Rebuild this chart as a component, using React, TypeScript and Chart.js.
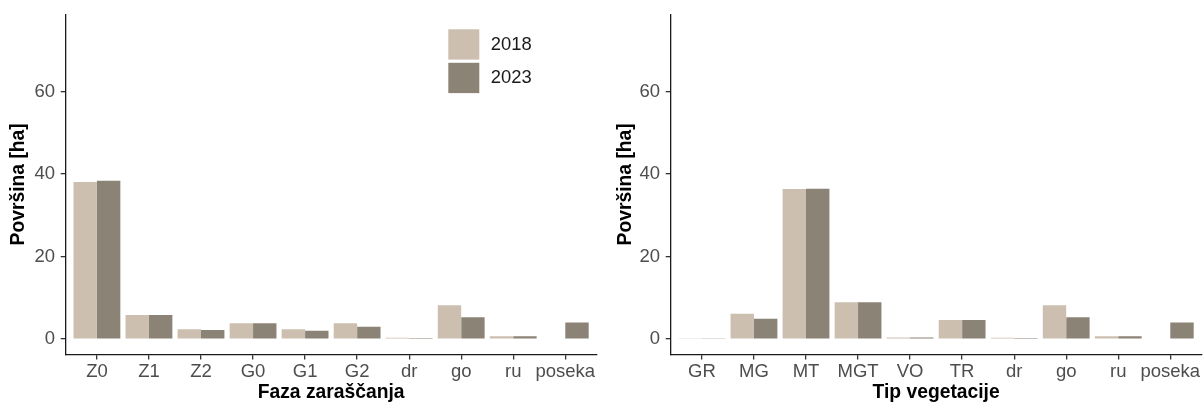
import React, { useEffect, useRef } from 'react';
import { Chart, registerables } from 'chart.js';

Chart.register(...registerables);

const seriesLabels = ['2018', '2023'];
const seriesColors = ['#CCBFAF', '#8C8377'];

const fazaCategories = ['Z0', 'Z1', 'Z2', 'G0', 'G1', 'G2', 'dr', 'go', 'ru', 'poseka'];
const faza2018 = [38.1, 5.8, 2.4, 3.8, 2.35, 3.8, 0.3, 8.2, 0.7, 0];
const faza2023 = [38.4, 5.8, 2.2, 3.8, 2.0, 3.0, 0.25, 5.3, 0.65, 4.0];

const tipCategories = ['GR', 'MG', 'MT', 'MGT', 'VO', 'TR', 'dr', 'go', 'ru', 'poseka'];
const tip2018 = [0.06, 6.1, 36.4, 8.9, 0.4, 4.6, 0.3, 8.2, 0.7, 0];
const tip2023 = [0.06, 4.9, 36.45, 8.9, 0.4, 4.6, 0.25, 5.3, 0.65, 4.0];

const yTicks = [0, 20, 40, 60];
const yMin = -3.75;
const yMax = 78.75;
const yTitle = 'Površina [ha]';

const FONT = '"Liberation Sans", Arial, Helvetica, sans-serif';

type Geo = {
  width: number;
  yAxisWidth: number;
  yTitlePad: number;
  rightPad: number;
};

const legendPlugin = {
  id: 'insideLegend',
  afterDraw(chart: any) {
    const ctx = chart.ctx;
    ctx.save();
    chart.data.datasets.forEach((ds: any, i: number) => {
      ctx.fillStyle = ds.backgroundColor;
      ctx.fillRect(448.3, 29.3 + i * 33.5, 31, 30.3);
      ctx.fillStyle = '#1a1a1a';
      ctx.font = `18.4px ${FONT}`;
      ctx.textBaseline = 'middle';
      ctx.textAlign = 'left';
      ctx.fillText(ds.label, 490.7, 44.8 + i * 33.6);
    });
    ctx.restore();
  },
};

function makeGrid() {
  return {
    display: true,
    drawOnChartArea: false,
    drawTicks: true,
    offset: false,
    tickLength: 5,
    tickColor: '#333333',
    tickWidth: 1.3,
    color: '#333333',
    lineWidth: 1.3,
  };
}

function makeConfig(
  categories: string[],
  values: number[][],
  xTitle: string,
  geo: Geo,
  withLegend: boolean
): any {
  const tickFont = { family: FONT, size: 18.5 };
  const titleFont = { family: FONT, size: 19.3, weight: 'bold' as const, lineHeight: 1 };
  return {
    type: 'bar',
    data: {
      datasets: values.map((vals, s) => ({
        label: seriesLabels[s],
        data: categories.map((_, i) => ({ x: i, y: vals[i] })),
        backgroundColor: seriesColors[s],
        borderWidth: 0,
        categoryPercentage: 0.9,
        barPercentage: 1.0,
      })),
    },
    options: {
      responsive: false,
      animation: false,
      devicePixelRatio: 1,
      layout: { padding: { left: 0, top: 14.2, right: geo.rightPad, bottom: 0 } },
      plugins: { legend: { display: false }, tooltip: { enabled: false } },
      scales: {
        x: {
          type: 'linear',
          min: -0.6,
          max: 9.6,
          offset: false,
          afterBuildTicks: (s: any) => {
            s.ticks = categories.map((_, i) => ({ value: i }));
          },
          afterFit: (s: any) => {
            s.height = 50.5;
            s.paddingLeft = 0;
            s.paddingRight = 0;
          },
          ticks: {
            autoSkip: false,
            maxRotation: 0,
            minRotation: 0,
            padding: 1.8,
            color: '#4D4D4D',
            font: tickFont,
            callback: (v: number) => categories[Math.round(v)] ?? '',
          },
          grid: makeGrid(),
          border: { display: true, color: '#1a1a1a', width: 1.3 },
          title: {
            display: true,
            text: xTitle,
            color: '#000000',
            font: titleFont,
            padding: { top: 0, bottom: 2.5 },
          },
        },
        y: {
          type: 'linear',
          min: yMin,
          max: yMax,
          afterBuildTicks: (s: any) => {
            s.ticks = yTicks.map((v) => ({ value: v }));
          },
          afterFit: (s: any) => {
            s.width = geo.yAxisWidth;
            s.paddingTop = 0;
            s.paddingBottom = 0;
          },
          ticks: {
            padding: 5.7,
            color: '#4D4D4D',
            font: tickFont,
            callback: (v: number) => String(v),
          },
          grid: makeGrid(),
          border: { display: true, color: '#1a1a1a', width: 1.3 },
          title: {
            display: true,
            text: yTitle,
            color: '#000000',
            font: titleFont,
            padding: { top: geo.yTitlePad, bottom: 0 },
          },
        },
      },
    },
    plugins: withLegend ? [legendPlugin] : [],
  };
}

function BarPanel(props: {
  categories: string[];
  values: number[][];
  xTitle: string;
  geo: Geo;
  left: number;
  withLegend: boolean;
}) {
  const ref = useRef<HTMLCanvasElement | null>(null);
  useEffect(() => {
    if (!ref.current) return;
    const chart = new Chart(
      ref.current,
      makeConfig(props.categories, props.values, props.xTitle, props.geo, props.withLegend)
    );
    return () => chart.destroy();
  }, []);
  return (
    <canvas
      ref={ref}
      width={props.geo.width}
      height={405}
      style={{
        position: 'absolute',
        left: props.left,
        top: 0,
        width: props.geo.width,
        height: 405,
        display: 'block',
      }}
    />
  );
}

export default function App() {
  return (
    <div
      style={{
        position: 'absolute',
        left: 0,
        top: 0,
        width: 1203,
        height: 405,
        background: '#ffffff',
        overflow: 'hidden',
      }}
    >
      <BarPanel
        categories={fazaCategories}
        values={[faza2018, faza2023]}
        xTitle="Faza zaraščanja"
        geo={{ width: 600, yAxisWidth: 65.7, yTitlePad: 8.85, rightPad: 3.5 }}
        left={0}
        withLegend={true}
      />
      <BarPanel
        categories={tipCategories}
        values={[tip2018, tip2023]}
        xTitle="Tip vegetacije"
        geo={{ width: 603, yAxisWidth: 70.7, yTitlePad: 16.15, rightPad: 1.5 }}
        left={600}
        withLegend={false}
      />
    </div>
  );
}
